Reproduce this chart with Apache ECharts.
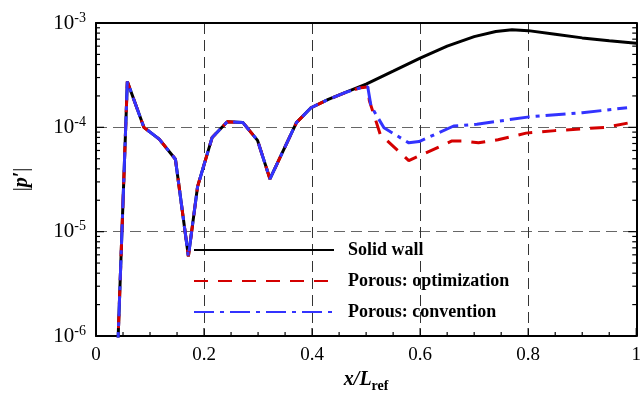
<!DOCTYPE html>
<html>
<head>
<meta charset="utf-8">
<script src="https://cdn.jsdelivr.net/npm/echarts@6/dist/echarts.min.js"></script>
<style>
  html, body { margin: 0; padding: 0; background: #fff; }
  #chart { width: 644px; height: 398px; }
</style>
</head>
<body>
<div id="chart"></div>
<script>
// 三条曲线共用的前段 (x < 0.47)
var sharedX = [0.040, 0.058, 0.0886, 0.117, 0.147, 0.171, 0.188, 0.215, 0.243, 0.272, 0.299, 0.322, 0.371, 0.398, 0.430, 0.463];
var sharedY = [7e-7, 2.75e-4, 1.0e-4, 7.7e-5, 4.95e-5, 5.8e-6, 2.7e-5, 8.0e-5, 1.13e-4, 1.11e-4, 7.5e-5, 3.2e-5, 1.11e-4, 1.54e-4, 1.85e-4, 2.17e-4];

// 各自的后段
var solidX = [0.50, 0.55, 0.60, 0.65, 0.70, 0.74, 0.77, 0.80, 0.85, 0.90, 0.95, 1.00];
var solidY = [2.6e-4, 3.45e-4, 4.6e-4, 6.0e-4, 7.4e-4, 8.3e-4, 8.6e-4, 8.45e-4, 7.8e-4, 7.2e-4, 6.75e-4, 6.4e-4];

var optX = [0.490, 0.503, 0.506, 0.526, 0.579, 0.659, 0.680, 0.708, 0.744, 0.796, 0.850, 0.943, 0.989];
var optY = [2.4e-4, 2.44e-4, 1.8e-4, 8.6e-5, 4.8e-5, 7.4e-5, 7.4e-5, 7.1e-5, 7.6e-5, 8.8e-5, 9.3e-5, 1.0e-4, 1.11e-4];

var convX = [0.490, 0.503, 0.509, 0.533, 0.579, 0.598, 0.662, 0.705, 0.802, 0.900, 0.983];
var convY = [2.4e-4, 2.45e-4, 1.6e-4, 9.9e-5, 7.1e-5, 7.3e-5, 1.03e-4, 1.07e-4, 1.26e-4, 1.38e-4, 1.54e-4];

var seriesNames = ['Solid wall', 'Porous: optimization', 'Porous: convention'];

// 刻度
var xMajorTicks = [0, 0.2, 0.4, 0.6, 0.8, 1];
var xMinorTicks = [0.05, 0.1, 0.15, 0.25, 0.3, 0.35, 0.45, 0.5, 0.55, 0.65, 0.7, 0.75, 0.85, 0.9, 0.95];
var yMajorTicks = [1e-6, 1e-5, 1e-4, 1e-3];
var yMinorTicks = [2e-6, 3e-6, 4e-6, 5e-6, 6e-6, 7e-6, 8e-6, 9e-6,
                   2e-5, 3e-5, 4e-5, 5e-5, 6e-5, 7e-5, 8e-5, 9e-5,
                   2e-4, 3e-4, 4e-4, 5e-4, 6e-4, 7e-4, 8e-4, 9e-4];

function pairs(xs, ys) {
    return xs.map(function (x, i) { return [x, ys[i]]; });
}

var serif = 'Liberation Serif';

var myChart = echarts.init(document.getElementById('chart'));

function tickLine(x1, y1, x2, y2) {
    return { type: 'line', shape: { x1: x1, y1: y1, x2: x2, y2: y2 }, style: { stroke: '#000', lineWidth: 1.2 } };
}

// 用坐标系换算画刻度 (左右两侧)
function renderYTick(params, api) {
    var v = api.value(1);
    var len = yMajorTicks.indexOf(v) >= 0 ? 8 : 4;
    var l = api.coord([0, v]);
    var r = api.coord([1, v]);
    return { type: 'group', children: [
        tickLine(l[0], l[1], l[0] + len, l[1]),
        tickLine(r[0], r[1], r[0] - len, r[1])
    ] };
}

function renderXTick(params, api) {
    var v = api.value(0);
    var len = xMajorTicks.indexOf(v) >= 0 ? 8 : 4;
    var b = api.coord([v, 1e-6]);
    return tickLine(b[0], b[1], b[0], b[1] - len);
}

myChart.setOption({
    animation: false,
    grid: { left: 96, right: 3, top: 23, bottom: 60 },
    legend: {
        orient: 'vertical',
        left: 193,
        top: 241,
        padding: 0,
        itemWidth: 140,
        itemHeight: 14,
        itemGap: 13,
        data: seriesNames,
        itemStyle: { opacity: 0 },
        textStyle: { fontFamily: serif, fontWeight: 'bold', fontSize: 18, color: '#000', padding: [0, 0, 0, 9] }
    },
    xAxis: [
        {
            type: 'value', min: 0, max: 1, interval: 0.2,
            name: '{i|x/L}{sub|ref}',
            nameLocation: 'middle',
            nameGap: 31,
            nameTextStyle: {
                rich: {
                    i: { fontFamily: serif, fontStyle: 'italic', fontWeight: 'bold', fontSize: 20, color: '#000' },
                    sub: { fontFamily: serif, fontWeight: 'bold', fontSize: 14, color: '#000', verticalAlign: 'bottom', padding: [12, 0, 0, 0] }
                }
            },
            axisLine: { show: true, onZero: false, lineStyle: { color: '#000', width: 2 } },
            axisTick: { show: false },
            axisLabel: { fontFamily: serif, fontSize: 19, color: '#000', margin: 10 },
            splitLine: { show: true, lineStyle: { color: '#333', type: [11, 6], width: 1 } }
        },
        {
            type: 'value', min: 0, max: 1, interval: 0.2, position: 'top',
            axisLine: { show: true, onZero: false, lineStyle: { color: '#000', width: 2 } },
            axisTick: { show: false },
            axisLabel: { show: false },
            splitLine: { show: false }
        }
    ],
    yAxis: [
        {
            type: 'log', logBase: 10, min: 1e-6, max: 1e-3,
            name: '|{i|p′}|',
            nameLocation: 'middle',
            nameGap: 64,
            nameRotate: 90,
            nameTextStyle: {
                fontFamily: serif, fontSize: 20, color: '#000',
                rich: { i: { fontFamily: serif, fontStyle: 'italic', fontWeight: 'bold', fontSize: 20, color: '#000' } }
            },
            axisLine: { show: true, onZero: false, lineStyle: { color: '#000', width: 2 } },
            axisTick: { show: false },
            axisLabel: {
                margin: 10,
                formatter: function (v) { return '10{sup|' + Math.round(Math.log10(v)) + '}'; },
                fontFamily: serif, fontSize: 21, color: '#000',
                rich: { sup: { fontFamily: serif, fontSize: 14, color: '#000', verticalAlign: 'top', padding: [0, 0, 10, 0] } }
            },
            splitLine: { show: true, lineStyle: { color: '#666', type: [11, 6], width: 1 } }
        },
        {
            type: 'log', logBase: 10, min: 1e-6, max: 1e-3, position: 'right',
            axisLine: { show: true, onZero: false, lineStyle: { color: '#000', width: 2 } },
            axisTick: { show: false },
            axisLabel: { show: false },
            splitLine: { show: false }
        }
    ],
    series: [
        {
            name: seriesNames[0], type: 'line', symbol: 'none',
            data: pairs(sharedX.concat(solidX), sharedY.concat(solidY)),
            lineStyle: { color: '#000', width: 3, type: 'solid' },
            itemStyle: { color: '#000' }
        },
        {
            name: seriesNames[1], type: 'line', symbol: 'none',
            data: pairs(sharedX.concat(optX), sharedY.concat(optY)),
            lineStyle: { color: '#d40000', width: 3, type: [14, 10] },
            itemStyle: { color: '#d40000' }
        },
        {
            name: seriesNames[2], type: 'line', symbol: 'none',
            data: pairs(sharedX.concat(convX), sharedY.concat(convY)),
            lineStyle: { color: '#3333ff', width: 3, type: [20, 6, 4, 6] },
            itemStyle: { color: '#3333ff' }
        },
        {
            name: 'yTicks', type: 'custom', silent: true, clip: false, z: 5,
            renderItem: renderYTick,
            data: yMajorTicks.concat(yMinorTicks).map(function (v) { return [0, v]; })
        },
        {
            name: 'xTicks', type: 'custom', silent: true, clip: false, z: 5,
            renderItem: renderXTick,
            data: xMajorTicks.concat(xMinorTicks).map(function (v) { return [v, 1e-6]; })
        }
    ]
});
</script>
</body>
</html>
